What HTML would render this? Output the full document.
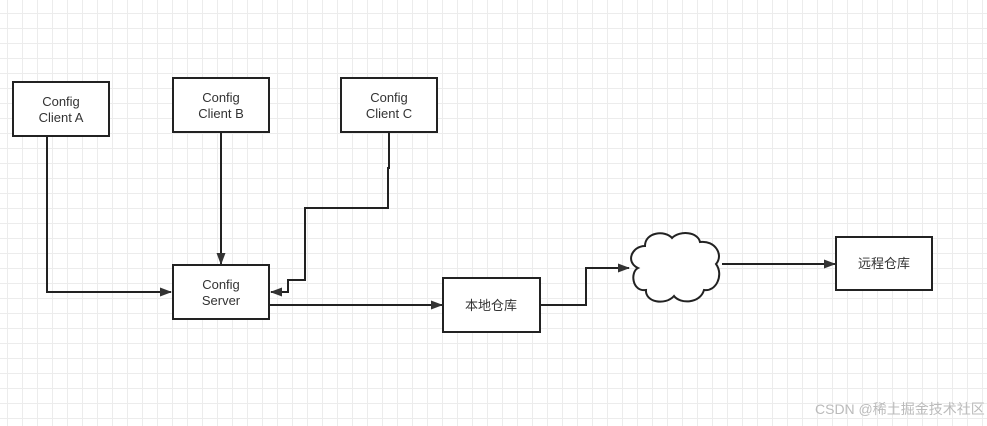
<!DOCTYPE html><html><head><meta charset="utf-8"><style>
body{margin:0;width:987px;height:426px;overflow:hidden;background:#fff;
background-image:linear-gradient(#ececec 1px,transparent 1px),linear-gradient(90deg,#ececec 1px,transparent 1px);
background-size:15px 15px;background-position:7px 13px;}
svg{position:absolute;left:0;top:0}
</style></head><body>
<svg width="987" height="426" font-family="Liberation Sans, Noto Sans CJK SC, sans-serif" font-size="13" fill="#333">
<defs><marker id="a" markerWidth="12" markerHeight="9" refX="11" refY="4.5" orient="auto" markerUnits="userSpaceOnUse"><path d="M0,0L12,4.5L0,9z" fill="#333"/></marker></defs>
<g fill="#fff" stroke="#222" stroke-width="2">
<rect x="13" y="82" width="96" height="54"/>
<rect x="173" y="78" width="96" height="54"/>
<rect x="341" y="78" width="96" height="54"/>
<rect x="173" y="265" width="96" height="54"/>
<rect x="443" y="278" width="97" height="54"/>
<rect x="836" y="237" width="96" height="53"/>
<path d="M645,246 C645,232 665,230 672,238 C680,230 698,232 700,242 C715,240 724,255 716,264 C724,275 716,292 704,290 C700,304 680,304 674,296 C665,306 645,302 646,290 C632,292 630,272 638,268 C625,262 632,246 645,246 Z"/>
</g>
<g fill="none" stroke="#222" stroke-width="2" marker-end="url(#a)">
<path d="M47,136V292H171"/>
<path d="M221,132V264"/>
<path d="M389,132V168H388V208H305V280H288V292H271"/>
<path d="M269,305H442"/>
<path d="M540,305H586V268H629"/>
<path d="M722,264H835"/>
</g>
<g text-anchor="middle">
<text x="61" y="106">Config</text><text x="61" y="122">Client A</text>
<text x="221" y="102">Config</text><text x="221" y="118">Client B</text>
<text x="389" y="102">Config</text><text x="389" y="118">Client C</text>
<text x="221" y="289">Config</text><text x="221" y="305">Server</text>
<text x="491" y="310">本地仓库</text>
<text x="884" y="268">远程仓库</text>
</g>
<text x="815" y="414" font-size="14" fill="#bbb">CSDN @稀土掘金技术社区</text>
</svg></body></html>
